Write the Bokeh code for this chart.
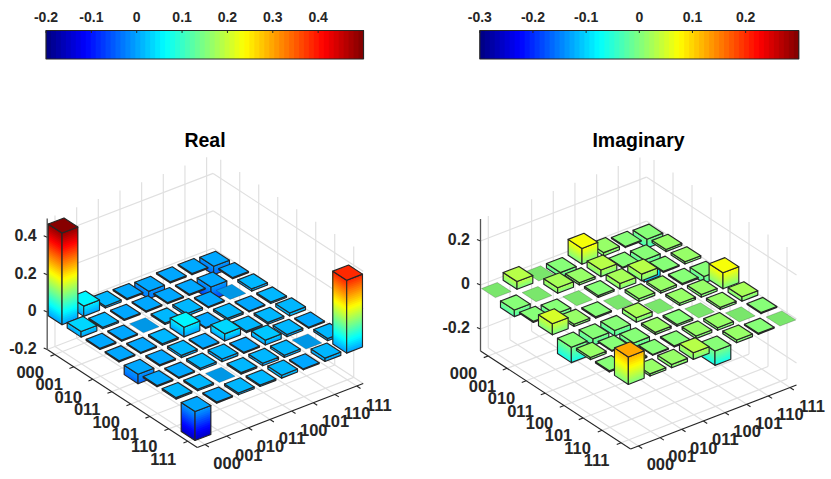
# two 3d bar panels (density matrix), projected by hand onto a plain bokeh figure

from bokeh.plotting import figure
from bokeh.models import ColumnDataSource, Range1d
from bokeh.core.properties import value
from bokeh.embed import file_html
from bokeh.resources import INLINE

labels = ["000", "001", "010", "011", "100", "101", "110", "111"]

# rows are the 000..111 on the left edge, columns the ones on the right edge
# exactly 0 = the faded flat cells
real_z = [
    [0.49, 0.055, 0.01, 0.006, -0.04, 0.006, 0.006, -0.045],
    [0.03, 0.008, 0.006, 0.006, 0.006, 0.006, -0.07, 0.006],
    [0.006, 0.006, 0, 0.008, 0.013, 0.006, 0, 0.012],
    [0.006, 0.006, 0.008, 0.052, 0.006, 0.01, 0.005, 0.008],
    [-0.05, 0.006, 0.012, 0.005, 0.038, 0.008, 0.01, 0.016],
    [0.006, 0.006, 0.01, 0.014, 0.006, 0.026, 0.012, 0.006],
    [0.008, 0.008, 0, 0.008, 0.013, 0.012, 0, 0.012],
    [-0.155, 0.006, 0.01, 0.008, 0.016, 0.005, 0.018, 0.39],
]
imag_z = [
    [0, 0.035, 0, -0.02, 0.072, 0.015, 0.005, -0.04],
    [-0.03, 0, 0.025, 0.01, 0.03, 0.005, -0.1, 0.01],
    [0.005, -0.03, 0, 0.008, 0.025, 0.03, 0.005, 0.01],
    [0.05, 0.01, 0.006, 0, 0.012, 0.01, 0.006, -0.03],
    [-0.07, -0.03, -0.025, 0.02, 0, 0.01, 0.012, 0.073],
    [0.01, 0.004, -0.02, 0.01, 0.008, 0, 0.01, 0.02],
    [0.006, 0.006, 0.004, 0.005, 0.012, 0.012, 0, 0.005],
    [0.125, 0.01, 0.015, 0.03, -0.065, 0.012, 0.005, 0],
]

real_zticks = [-0.2, 0, 0.2, 0.4]
imag_zticks = [-0.2, 0, 0.2]
real_cticks = [-0.2, -0.1, 0, 0.1, 0.2, 0.3, 0.4]
imag_cticks = [-0.3, -0.2, -0.1, 0, 0.1, 0.2]

DARK = "#262626"
GRID = "#e0e0e0"
FONT = value("Liberation Sans")


def jet(t, dim=1.0):
    t = min(max(t, 0), 1)
    t = (int(t * 64) + 0.5) / 64 if t < 1 else 63.5 / 64
    c = [min(max(1.5 - abs(4 * t - k), 0), 1) for k in (3, 2, 1)]
    return "#%02x%02x%02x" % tuple(int(round(v * 255 * dim)) for v in c)


def fmt(v):
    return "0" if v == 0 else "%g" % v


# bokeh's page template has no body margin, so the canvas starts at the window corner
p = figure(width=831, height=479, output_backend="svg", toolbar_location=None,
           x_range=Range1d(0, 831), y_range=Range1d(479, 0),
           x_axis_location=None, y_axis_location=None, min_border=0,
           outline_line_color=None)
p.grid.visible = False

polys = dict(xs=[], ys=[], fill=[], line=[], lw=[], fa=[], la=[])


def add_poly(xs, ys, fill, line, lw, fa=1.0, la=1.0):
    polys["xs"].append(xs)
    polys["ys"].append(ys)
    polys["fill"].append(fill)
    polys["line"].append(line)
    polys["lw"].append(lw)
    polys["fa"].append(fa)
    polys["la"].append(la)


def panel(data, zticks, cticks, title, x0, y0, zscale, zlo, zhi, clo, chi, cb, title_x):
    def proj(a, b, z):
        return (x0 + 19.0 * a + 21.66 * b,
                y0 + 12.4 * a - 8.34 * b - zscale * (z - zlo))

    def cnorm(z):
        return (z - clo) / (chi - clo)

    amax, bmax = 7.9, 7.66
    uticks = [i + 0.4 for i in range(8)]
    vticks = [i + 0.36 for i in range(8)]

    # walls and floor
    gx, gy = [], []

    def seg(q, r):
        gx.append([q[0], r[0]])
        gy.append([q[1], r[1]])

    for v in vticks:
        seg(proj(0, v, zlo), proj(amax, v, zlo))
        seg(proj(0, v, zlo), proj(0, v, zhi))
    for u in uticks:
        seg(proj(u, 0, zlo), proj(u, bmax, zlo))
        seg(proj(u, bmax, zlo), proj(u, bmax, zhi))
    for z in zticks:
        seg(proj(0, 0, z), proj(0, bmax, z))
        seg(proj(0, bmax, z), proj(amax, bmax, z))
    p.multi_line(gx, gy, line_color=GRID, line_width=1.2)

    # axes and ticks
    ax, ay = [], []

    def aseg(q, r):
        ax.append([q[0], r[0]])
        ay.append([q[1], r[1]])

    aseg(proj(0, 0, zlo), proj(amax, 0, zlo))
    aseg(proj(amax, 0, zlo), proj(amax, bmax, zlo))
    for u in uticks:
        aseg(proj(u, 0, zlo), proj(u, -0.2, zlo))
    for v in vticks:
        aseg(proj(amax, v, zlo), proj(amax + 0.2, v, zlo))
    for z in zticks:
        q = proj(0, 0, z)
        aseg(q, (q[0] - 3.5, q[1] - 1.5))
    p.multi_line(ax, ay, line_color=DARK, line_width=1.1)
    q0, q1 = proj(0, 0, zlo), proj(0, 0, zhi)
    p.line([q0[0], q1[0]], [q0[1], q1[1]], line_color="#555555", line_width=1.3)

    # bars, back to front
    cells = sorted(((i, j) for i in range(8) for j in range(8)), key=lambda c: c[0] - c[1])
    step = (chi - clo) / 64
    for i, j in cells:
        val = data[i][j]
        a0, a1 = i + 0.2, i + 0.93
        b0, b1 = j - 0.13, j + 0.6
        top = max(val, 0)
        bot = min(val, 0)
        corners = [(a0, b0), (a1, b0), (a1, b1), (a0, b1)]
        pts = [proj(a, b, top) for a, b in corners]
        if val == 0:
            add_poly([q[0] for q in pts], [q[1] for q in pts], jet(cnorm(0), 0.9), DARK, 1.0, 1.0, 0.25)
            continue
        # the two faces we can see, painted bottom up with overlap so no seams show
        faces = [((a0, b0), (a1, b0)), ((a1, b0), (a1, b1))]
        n = max(1, int(round((top - bot) / step)))
        for (c0, c1) in faces:
            for k in range(n):
                z0 = bot + (top - bot) * k / n
                z1 = bot + (top - bot) * (k + 1) / n
                col = jet(cnorm((z0 + z1) / 2))
                q = [proj(c0[0], c0[1], z0), proj(c1[0], c1[1], z0),
                     proj(c1[0], c1[1], top), proj(c0[0], c0[1], top)]
                add_poly([s[0] for s in q], [s[1] for s in q], col, col, 0.1, 1.0, 0.0)
            q = [proj(c0[0], c0[1], bot), proj(c1[0], c1[1], bot),
                 proj(c1[0], c1[1], top), proj(c0[0], c0[1], top)]
            add_poly([s[0] for s in q], [s[1] for s in q], "#000000", DARK, 1.15, 0.0, 1.0)
        add_poly([q[0] for q in pts], [q[1] for q in pts], jet(cnorm(top)), DARK, 1.15)

    # tick labels
    lx = [proj(u, 0, zlo)[0] - 24.6 for u in uticks]
    ly = [proj(u, 0, zlo)[1] + 17.5 for u in uticks]
    p.text(lx, ly, text=labels, text_font=FONT, text_font_style="bold", text_font_size="16.5px",
           text_color=DARK, text_align="center", text_baseline="middle")
    lx = [proj(amax, v, zlo)[0] + 22 for v in vticks]
    ly = [proj(amax, v, zlo)[1] + 18.5 for v in vticks]
    p.text(lx, ly, text=labels, text_font=FONT, text_font_style="bold", text_font_size="16.5px",
           text_color=DARK, text_align="center", text_baseline="middle")
    lx = [x0 - 10.5 for z in zticks]
    ly = [proj(0, 0, z)[1] - 2 for z in zticks]
    p.text(lx, ly, text=[fmt(z) for z in zticks], text_font=FONT, text_font_style="bold",
           text_font_size="16px", text_color=DARK, text_align="right", text_baseline="middle")

    p.text([title_x], [139.5], text=[title], text_font=FONT, text_font_style="bold",
           text_font_size="19.5px", text_color="#000000", text_align="center", text_baseline="middle")

    # colour bar
    cx0, cx1, cy0, cy1 = cb

    def cpos(v):
        return cx0 + (v - clo) / (chi - clo) * (cx1 - cx0)

    levels = [clo + (chi - clo) * k / 64 for k in range(65)]
    p.quad(left=[cpos(v) for v in levels[:-1]], right=[cx1] * 64,
           top=[cy0] * 64, bottom=[cy1] * 64,
           fill_color=[jet((k + 0.5) / 64) for k in range(64)], line_color=None)
    p.quad(left=[cx0], right=[cx1], top=[cy0], bottom=[cy1], fill_alpha=0,
           line_color=DARK, line_width=1.2)
    p.segment([cpos(v) for v in cticks], [cy0] * len(cticks), [cpos(v) for v in cticks],
              [cy0 + 2.5] * len(cticks), line_color=DARK, line_width=1)
    p.text([cpos(v) for v in cticks], [16] * len(cticks), text=[fmt(v) for v in cticks], text_font=FONT,
           text_font_style="bold", text_font_size="14px", text_color=DARK,
           text_align="center", text_baseline="middle")


panel(real_z, real_zticks, real_cticks, "Real", 46.7, 349, 187.0, -0.2, 0.5, -0.2, 0.5,
      (45.5, 363, 30, 58.5), 204.5)
panel(imag_z, imag_zticks, imag_cticks, "Imaginary", 480, 350.5, 220.0, -0.3, 0.3, -0.3, 0.3,
      (479.3, 798.3, 30, 58.5), 638)

p.patches("xs", "ys", source=ColumnDataSource(polys), fill_color="fill", line_color="line",
          line_width="lw", fill_alpha="fa", line_alpha="la", line_join="round")

open("out.html", "w").write(file_html(p, INLINE))
